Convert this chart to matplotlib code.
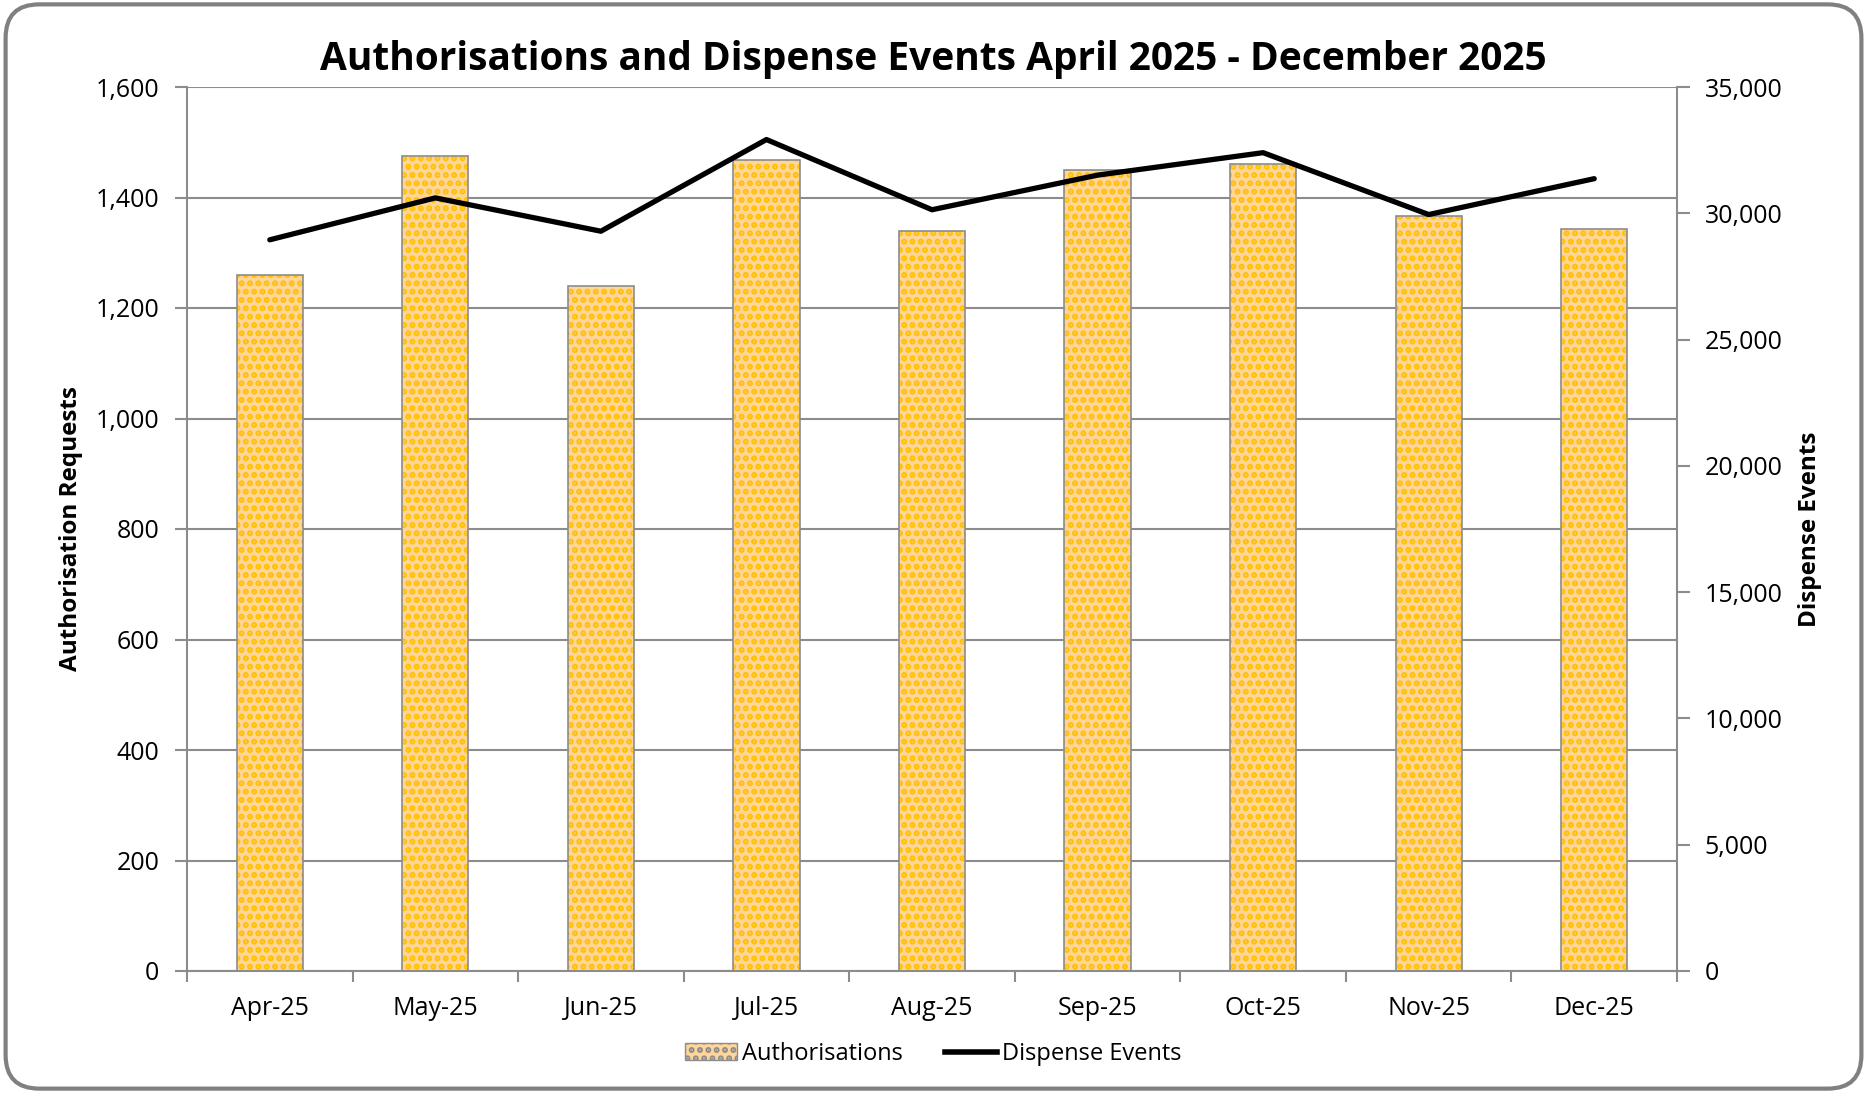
import matplotlib
matplotlib.use("Agg")
import matplotlib.pyplot as plt
from matplotlib.patches import FancyBboxPatch
from matplotlib.ticker import FuncFormatter, FixedLocator
from matplotlib.lines import Line2D
from matplotlib.patches import Patch
import numpy as np

# data
months = ["Apr-25", "May-25", "Jun-25", "Jul-25", "Aug-25", "Sep-25", "Oct-25", "Nov-25", "Dec-25"]
authorisations = [1259, 1475, 1240, 1468, 1339, 1449, 1460, 1367, 1343]
dispense_events = [28950, 30610, 29290, 32920, 30140, 31510, 32400, 29950, 31370]

plt.rcParams['font.family'] = ['Open Sans', 'DejaVu Sans']
plt.rcParams['hatch.linewidth'] = 3.0
plt.rcParams['hatch.color'] = '#FFC000'

grey = '#8c8c8c'
fig = plt.figure(figsize=(18.67, 10.93), dpi=100)
ax = fig.add_axes([187/1867, 1-971/1093, (1677-187)/1867, (971-87)/1093])
ax2 = ax.twinx()

x = np.arange(len(months))
# fill with dotted texture, then a grey outline on top
ax.bar(x, authorisations, width=0.4, color='#FFD59A', hatch='..', edgecolor='#FFC000',
       linewidth=0, zorder=2)
ax.bar(x, authorisations, width=0.4, facecolor='none', edgecolor=grey, linewidth=1.2, zorder=3)

ax2.plot(x, dispense_events, color='black', linewidth=3.8, solid_capstyle='round', zorder=4)

ax.set_xlim(-0.5, len(months)-0.5)
ax.set_ylim(0, 1600)
ax2.set_ylim(0, 35000)
ax.set_yticks(np.arange(0, 1601, 200))
ax2.set_yticks(np.arange(0, 35001, 5000))
fmt = FuncFormatter(lambda v, p: f"{int(v):,}")
ax.yaxis.set_major_formatter(fmt)
ax2.yaxis.set_major_formatter(fmt)

ax.set_xticks(x)
ax.set_xticklabels(months)
ax.xaxis.set_minor_locator(FixedLocator(np.arange(-0.5, len(months), 1)))
ax.tick_params(axis='x', which='major', length=0, labelsize=18, pad=18)
ax.tick_params(axis='x', which='minor', length=8, color=grey, width=1.5)
ax.tick_params(axis='y', length=9, color=grey, width=1.5, labelsize=18, pad=11)
ax2.tick_params(axis='y', length=9, color=grey, width=1.5, labelsize=18, pad=11)

ax.grid(axis='y', color=grey, linewidth=1.5, zorder=0)
ax.set_axisbelow(True)
for a in (ax, ax2):
    a.spines['top'].set_visible(False)
    for s in ('left', 'right', 'bottom'):
        a.spines[s].set_color(grey)
        a.spines[s].set_linewidth(1.5)
ax.spines['right'].set_visible(False)
ax2.spines['left'].set_visible(False)
ax2.spines['bottom'].set_visible(False)
ax2.patch.set_visible(False)
# keep the line above bars
ax.set_zorder(1); ax2.set_zorder(2)

ax.set_ylabel("Authorisation Requests", fontsize=17.5, fontweight='bold', labelpad=9)
ax2.set_ylabel("Dispense Events", fontsize=17.5, fontweight='bold', rotation=90, labelpad=11)

fig.suptitle("Authorisations and Dispense Events April 2025 - December 2025",
             fontsize=28, fontweight='bold', y=0.963)

handles = [Patch(facecolor='#FFD59A', hatch='..', edgecolor=grey, linewidth=1),
           Line2D([0], [0], color='black', linewidth=4)]
fig.legend(handles, ["Authorisations", "Dispense Events"], loc='center',
           bbox_to_anchor=(0.5, 1-1054/1093), ncol=2, frameon=False, fontsize=17,
           handlelength=2.2, handletextpad=0.2, columnspacing=1.8)

border = FancyBboxPatch((0.003, 0.004), 0.994, 0.992, boxstyle="round,pad=0,rounding_size=0.018",
                        transform=fig.transFigure, facecolor='none', edgecolor='#808080',
                        linewidth=3, mutation_aspect=1867/1093)
fig.patches.append(border)

fig.savefig("out.png", dpi=100)
